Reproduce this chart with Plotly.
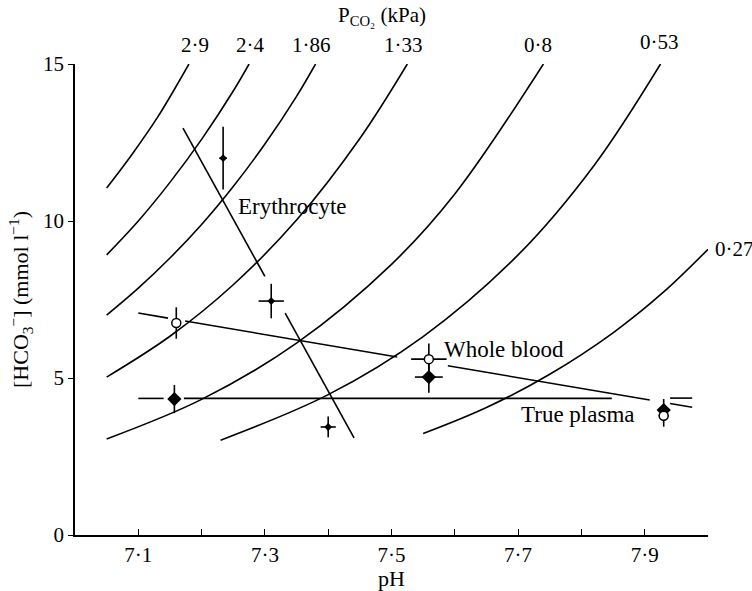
import plotly.graph_objects as go

FONT = "Liberation Serif"

# ---- PCO2 isopleths: pH, [HCO3-]
iso_labels = ["2·9", "2·4", "1·86", "1·33", "0·8", "0·53", "0·27"]
iso_ph = [
    [7.05, 7.09, 7.13, 7.18],
    [7.05, 7.10, 7.15, 7.20, 7.25, 7.275],
    [7.05, 7.10, 7.15, 7.20, 7.25, 7.30, 7.35, 7.38],
    [7.05, 7.15, 7.25, 7.35, 7.45, 7.525],
    [7.05, 7.20, 7.35, 7.50, 7.60, 7.74],
    [7.23, 7.40, 7.55, 7.70, 7.82, 7.925],
    [7.55, 7.65, 7.75, 7.85, 7.93, 8.00],
]
iso_hco3 = [
    [11.05, 12.12, 13.29, 15.0],
    [8.92, 10.0, 11.23, 12.6, 14.14, 15.0],
    [7.0, 7.86, 8.82, 9.89, 11.1, 12.45, 13.97, 15.0],
    [5.03, 6.33, 7.97, 10.03, 12.63, 15.0],
    [3.06, 4.32, 6.11, 8.62, 10.86, 15.0],
    [3.02, 4.47, 6.32, 8.92, 11.77, 15.0],
    [3.23, 4.06, 5.12, 6.44, 7.74, 9.1],
]
# label positions (pH, [HCO3-])
iso_label_ph = [7.19, 7.277, 7.374, 7.519, 7.731, 7.924, 8.008]
iso_label_hco3 = [15.6, 15.6, 15.6, 15.6, 15.6, 15.7, 9.1]

# ---- regression lines (segments separated by None)
ery_line_ph = [7.1706, 7.300, None, 7.332, 7.4408]
ery_line_hco3 = [12.96, 8.233, None, 7.064, 3.09]
wb_line_ph = [7.100, 7.147, None, 7.174, 7.509, None, 7.589, 7.908, None, 7.940, 7.975]
wb_line_hco3 = [7.07, 6.907, None, 6.815, 5.667, None, 5.39, 4.30, None, 4.19, 4.07]
tp_line_ph = [7.100, 7.140, None, 7.172, 7.848, None, 7.940, 7.975]
tp_line_hco3 = [4.35, 4.35, None, 4.35, 4.35, None, 4.36, 4.36]

# ---- mean values with error bars
ery_ph = [7.234, 7.310, 7.400]
ery_hco3 = [12.0, 7.45, 3.44]
ery_ey = [1.0, 0.55, 0.33]
ery_ex = [0.006, 0.02, 0.012]

wb_ph = [7.160, 7.559, 7.930]
wb_hco3 = [6.75, 5.60, 3.80]
wb_ey = [0.5, 0.5, 0.35]
wb_ex = [0.0, 0.028, 0.008]

tp_ph = [7.157, 7.559, 7.930]
tp_hco3 = [4.33, 5.03, 3.98]
tp_ey = [0.45, 0.5, 0.35]
tp_ex = [0.0, 0.022, 0.008]

x_tickvals = [7.1, 7.2, 7.3, 7.4, 7.5, 7.6, 7.7, 7.8, 7.9, 8.0]
x_ticktext = ["7·1", "", "7·3", "", "7·5", "", "7·7", "", "7·9", ""]
y_tickvals = [0, 5, 10, 15]

X0, X1, Y0, Y1 = 7.0, 8.0, 0.0, 15.0

fig = go.Figure()
for xs, ys in zip(iso_ph, iso_hco3):
    fig.add_trace(go.Scatter(x=xs, y=ys, mode="lines",
                             line=dict(color="black", width=1.6, shape="spline", smoothing=1.0),
                             hoverinfo="skip", showlegend=False))

for xs, ys in [(ery_line_ph, ery_line_hco3), (wb_line_ph, wb_line_hco3), (tp_line_ph, tp_line_hco3)]:
    fig.add_trace(go.Scatter(x=xs, y=ys, mode="lines", connectgaps=False,
                             line=dict(color="black", width=1.6), showlegend=False))

def pts(xs, ys, ex, ey, marker):
    return go.Scatter(x=xs, y=ys, mode="markers", showlegend=False, marker=marker,
                      error_y=dict(type="data", array=ey, color="black", thickness=1.6, width=0),
                      error_x=dict(type="data", array=ex, color="black", thickness=1.6, width=0))

fig.add_trace(pts(ery_ph, ery_hco3, ery_ex, ery_ey,
                  dict(symbol="diamond", size=6, color="black")))
fig.add_trace(pts(tp_ph, tp_hco3, tp_ex, tp_ey,
                  dict(symbol="diamond", size=11, color="black")))
fig.add_trace(pts(wb_ph, wb_hco3, wb_ex, wb_ey,
                  dict(symbol="circle", size=9, color="white", line=dict(color="black", width=1.5))))

NF = dict(family=FONT, size=21, color="black")
WF = dict(family=FONT, size=23, color="black")
ann = []
for i, (lx, ly, txt) in enumerate(zip(iso_label_ph, iso_label_hco3, iso_labels)):
    ann.append(dict(x=(lx - X0) / (X1 - X0), y=(ly - Y0) / (Y1 - Y0), xref="paper", yref="paper",
                    text=txt, showarrow=False, font=NF,
                    xanchor="left" if i == 6 else "center", yanchor="middle"))
ann.append(dict(x=7.254, y=10.45, text="Erythrocyte", showarrow=False, xanchor="left", font=WF))
ann.append(dict(x=7.580, y=5.9, text="Whole blood", showarrow=False, xanchor="left", font=WF))
ann.append(dict(x=7.701, y=3.85, text="True plasma", showarrow=False, xanchor="left", font=WF))
ann.append(dict(x=0.485, y=1.102, xref="paper", yref="paper", showarrow=False,
                xanchor="center", yanchor="middle",
                text="P<sub>CO₂</sub> (kPa)", font=NF))

fig.update_layout(
    width=752, height=591,
    margin=dict(l=75, r=44, t=64, b=56),
    plot_bgcolor="white", paper_bgcolor="white",
    font=dict(family=FONT, size=21, color="black"),
    annotations=ann,
    xaxis=dict(range=[X0, X1], tickvals=x_tickvals, ticktext=x_ticktext, automargin=False,
               ticks="inside", ticklen=6, tickwidth=1.3, tickcolor="black",
               showline=True, linecolor="black", linewidth=1.8, showgrid=False, zeroline=False,
               title=dict(text="pH", font=dict(family=FONT, size=22), standoff=2),
               tickfont=dict(family=FONT, size=21)),
    yaxis=dict(range=[Y0, Y1], tickvals=y_tickvals, automargin=False,
               ticks="outside", ticklen=5, tickwidth=1.3, tickcolor="black",
               showline=True, linecolor="black", linewidth=1.8, showgrid=False, zeroline=False,
               title=dict(text="[HCO<sub>3</sub><sup>−</sup>] (mmol l<sup>−1</sup>)",
                          font=dict(family=FONT, size=22), standoff=8),
               tickfont=dict(family=FONT, size=21)),
)

fig.write_html("out.html")
